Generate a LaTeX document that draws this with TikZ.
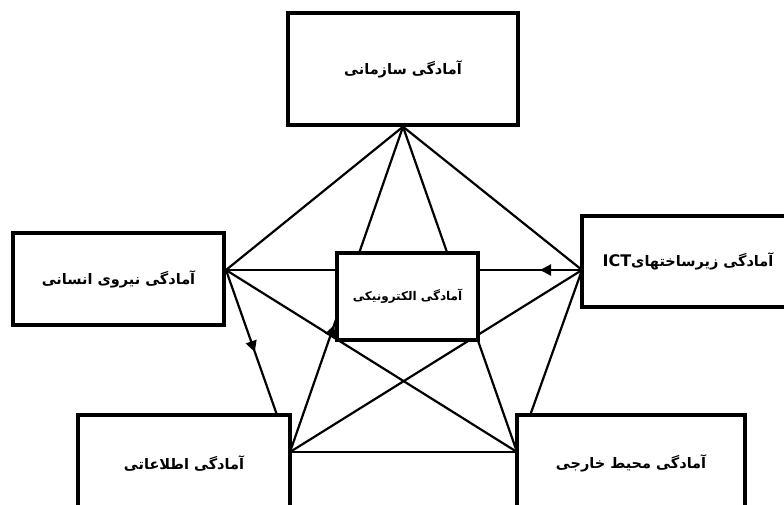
\documentclass[tikz,border=0pt]{standalone}
\usepackage{fontspec}
\newfontfamily\arabicfont[Script=Arabic]{DejaVu Sans}
\TeXXeTstate=1
\usetikzlibrary{arrows.meta,decorations.markings}
\pgfdeclarelayer{background}
\pgfsetlayers{background,main}
\begin{document}
\begin{tikzpicture}[x=1pt,y=-1pt,
  box/.style={draw, line width=3.4pt, fill=white, rectangle, inner sep=0pt,
    font=\arabicfont\bfseries\fontsize{14.5}{17}\selectfont},
  link/.style={line width=2.2pt},
  arrowat/.style={postaction={decorate},
    decoration={markings,mark=at position #1 with {\arrow{Triangle[length=11pt,width=11pt]}}}}]
\useasboundingbox (0,0) rectangle (784,504);
\node[box, minimum width=230pt, minimum height=112pt] (org) at (403,69) {\raisebox{-3pt}{\beginR آمادگی سازمانی\endR}};
\node[box, minimum width=211pt, minimum height=92pt] (hr) at (118.5,279) {\beginR آمادگی نیروی انسانی\endR};
\node[box, minimum width=212pt, minimum height=91pt] (ict) at (688,261.5) {\beginR آمادگی زیرساختهای\beginL{\fontsize{16}{18}\selectfont ICT}\endL\endR};
\node[box, minimum width=212pt, minimum height=96pt] (info) at (184,463) {\beginR آمادگی اطلاعاتی\endR};
\node[box, minimum width=228pt, minimum height=96pt] (env) at (631,463) {\beginR آمادگی محیط خارجی\endR};
\node[box, minimum width=141pt, minimum height=87pt, font=\arabicfont\bfseries\fontsize{12}{14}\selectfont] (ecen) at (407.5,296.5) {\beginR آمادگی الکترونیکی\endR};
\coordinate (pA) at (org.south);
\coordinate (pH) at (226,270);
\coordinate (pT) at (582,270);
\coordinate (pI) at (290,452);
\coordinate (pE) at (517,452);
\begin{pgfonlayer}{background}
\draw[link] (pA) -- (pH);
\draw[link] (pA) -- (pT);
\draw[link, arrowat=0.39] (pI) -- (pA);
\draw[link] (pA) -- (pE);
\draw[link, arrowat=0.118] (pT) -- (pH);
\draw[link, arrowat=0.45] (pH) -- (pI);
\draw[link] (pH) -- (pE);
\draw[link] (pT) -- (pI);
\draw[link] (pT) -- (pE);
\draw[link] (pI) -- (pE);
\end{pgfonlayer}
\end{tikzpicture}
\end{document}
